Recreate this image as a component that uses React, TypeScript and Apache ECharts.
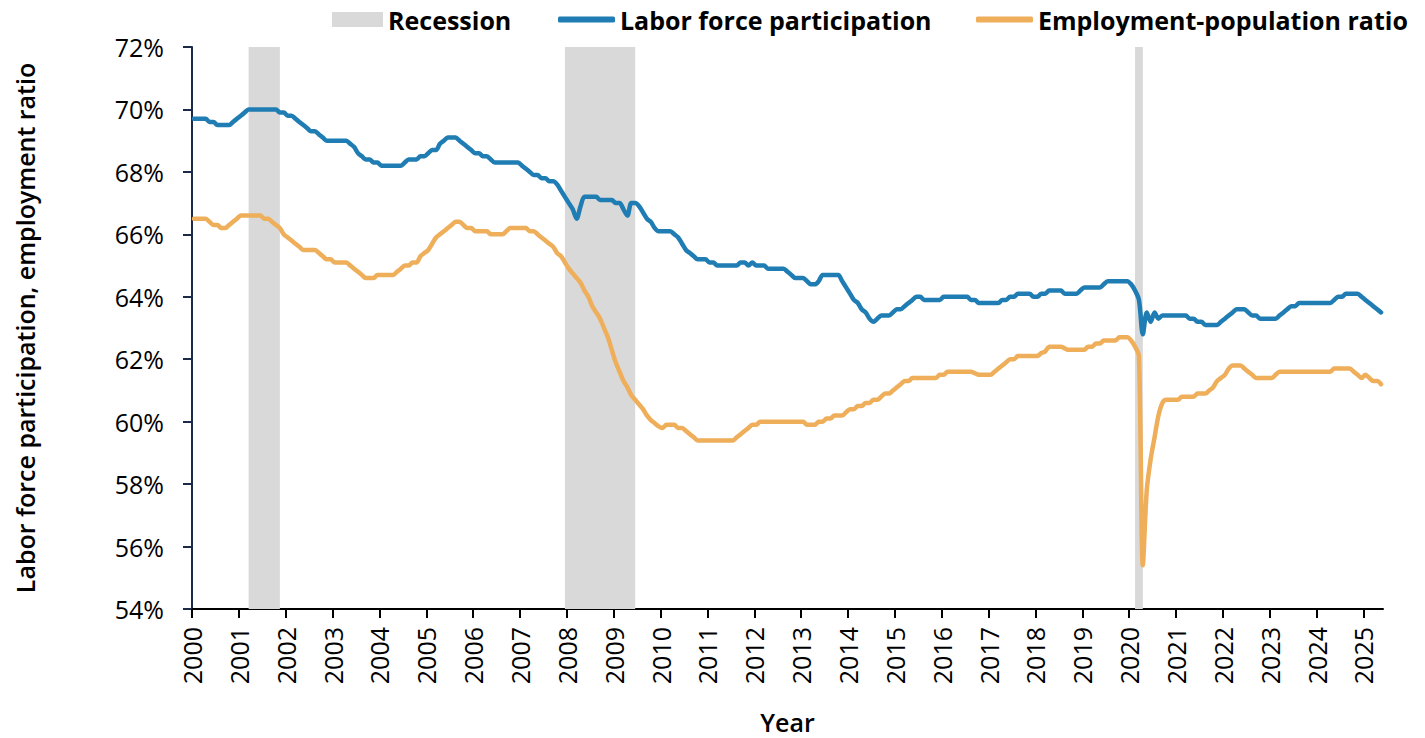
import React, { useEffect, useRef } from "react";
import * as echarts from "echarts";

const startYear = 2000;

// Labor force participation rate (%), monthly, one row per year (Jan..Dec)
const laborForce: number[][] = [
  [69.7, 69.7, 69.7, 69.7, 69.6, 69.6, 69.5, 69.5, 69.5, 69.5, 69.6, 69.7],
  [69.8, 69.9, 70.0, 70.0, 70.0, 70.0, 70.0, 70.0, 70.0, 70.0, 69.9, 69.9],
  [69.8, 69.8, 69.7, 69.6, 69.5, 69.4, 69.3, 69.3, 69.2, 69.1, 69.0, 69.0],
  [69.0, 69.0, 69.0, 69.0, 68.9, 68.8, 68.6, 68.5, 68.4, 68.4, 68.3, 68.3],
  [68.2, 68.2, 68.2, 68.2, 68.2, 68.2, 68.3, 68.4, 68.4, 68.4, 68.5, 68.5],
  [68.6, 68.7, 68.7, 68.9, 69.0, 69.1, 69.1, 69.1, 69.0, 68.9, 68.8, 68.7],
  [68.6, 68.6, 68.5, 68.5, 68.4, 68.3, 68.3, 68.3, 68.3, 68.3, 68.3, 68.3],
  [68.2, 68.1, 68.0, 67.9, 67.9, 67.8, 67.8, 67.7, 67.7, 67.6, 67.4, 67.2],
  [67.0, 66.8, 66.5, 66.9, 67.2, 67.2, 67.2, 67.2, 67.1, 67.1, 67.1, 67.1],
  [67.0, 67.0, 66.8, 66.6, 67.0, 67.0, 66.9, 66.7, 66.5, 66.4, 66.2, 66.1],
  [66.1, 66.1, 66.1, 66.0, 65.9, 65.7, 65.5, 65.4, 65.3, 65.2, 65.2, 65.2],
  [65.1, 65.1, 65.0, 65.0, 65.0, 65.0, 65.0, 65.0, 65.1, 65.1, 65.0, 65.1],
  [65.0, 65.0, 65.0, 64.9, 64.9, 64.9, 64.9, 64.9, 64.8, 64.7, 64.6, 64.6],
  [64.6, 64.5, 64.4, 64.4, 64.5, 64.7, 64.7, 64.7, 64.7, 64.7, 64.5, 64.3],
  [64.1, 63.9, 63.8, 63.6, 63.5, 63.3, 63.2, 63.3, 63.4, 63.4, 63.4, 63.5],
  [63.6, 63.6, 63.7, 63.8, 63.9, 64.0, 64.0, 63.9, 63.9, 63.9, 63.9, 63.9],
  [64.0, 64.0, 64.0, 64.0, 64.0, 64.0, 64.0, 63.9, 63.9, 63.8, 63.8, 63.8],
  [63.8, 63.8, 63.8, 63.9, 63.9, 64.0, 64.0, 64.1, 64.1, 64.1, 64.1, 64.0],
  [64.0, 64.1, 64.1, 64.2, 64.2, 64.2, 64.2, 64.1, 64.1, 64.1, 64.1, 64.2],
  [64.3, 64.3, 64.3, 64.3, 64.3, 64.4, 64.5, 64.5, 64.5, 64.5, 64.5, 64.5],
  [64.4, 64.2, 63.9, 62.8, 63.5, 63.2, 63.5, 63.3, 63.4, 63.4, 63.4, 63.4],
  [63.4, 63.4, 63.4, 63.3, 63.3, 63.2, 63.2, 63.1, 63.1, 63.1, 63.1, 63.2],
  [63.3, 63.4, 63.5, 63.6, 63.6, 63.6, 63.5, 63.4, 63.4, 63.3, 63.3, 63.3],
  [63.3, 63.3, 63.4, 63.5, 63.6, 63.7, 63.7, 63.8, 63.8, 63.8, 63.8, 63.8],
  [63.8, 63.8, 63.8, 63.8, 63.9, 64.0, 64.0, 64.1, 64.1, 64.1, 64.1, 64.0],
  [63.9, 63.8, 63.7, 63.6, 63.5],
];

// Employment-population ratio (%), monthly, one row per year (Jan..Dec)
const employmentRatio: number[][] = [
  [66.5, 66.5, 66.5, 66.5, 66.4, 66.3, 66.3, 66.2, 66.2, 66.3, 66.4, 66.5],
  [66.6, 66.6, 66.6, 66.6, 66.6, 66.6, 66.5, 66.5, 66.4, 66.3, 66.2, 66.0],
  [65.9, 65.8, 65.7, 65.6, 65.5, 65.5, 65.5, 65.5, 65.4, 65.3, 65.2, 65.2],
  [65.1, 65.1, 65.1, 65.1, 65.0, 64.9, 64.8, 64.7, 64.6, 64.6, 64.6, 64.7],
  [64.7, 64.7, 64.7, 64.7, 64.8, 64.9, 65.0, 65.0, 65.1, 65.1, 65.3, 65.4],
  [65.5, 65.7, 65.9, 66.0, 66.1, 66.2, 66.3, 66.4, 66.4, 66.3, 66.2, 66.2],
  [66.1, 66.1, 66.1, 66.1, 66.0, 66.0, 66.0, 66.0, 66.1, 66.2, 66.2, 66.2],
  [66.2, 66.2, 66.1, 66.1, 66.0, 65.9, 65.8, 65.7, 65.6, 65.4, 65.3, 65.1],
  [64.9, 64.75, 64.6, 64.45, 64.2, 64.0, 63.7, 63.5, 63.3, 63.0, 62.7, 62.3],
  [61.9, 61.6, 61.3, 61.1, 60.85, 60.7, 60.55, 60.4, 60.2, 60.05, 59.95, 59.85],
  [59.8, 59.9, 59.9, 59.9, 59.8, 59.8, 59.7, 59.6, 59.5, 59.4, 59.4, 59.4],
  [59.4, 59.4, 59.4, 59.4, 59.4, 59.4, 59.4, 59.5, 59.6, 59.7, 59.8, 59.9],
  [59.9, 60.0, 60.0, 60.0, 60.0, 60.0, 60.0, 60.0, 60.0, 60.0, 60.0, 60.0],
  [60.0, 59.9, 59.9, 59.9, 60.0, 60.0, 60.1, 60.1, 60.2, 60.2, 60.2, 60.3],
  [60.4, 60.4, 60.5, 60.5, 60.6, 60.6, 60.7, 60.7, 60.8, 60.9, 60.9, 61.0],
  [61.1, 61.2, 61.3, 61.3, 61.4, 61.4, 61.4, 61.4, 61.4, 61.4, 61.4, 61.5],
  [61.5, 61.6, 61.6, 61.6, 61.6, 61.6, 61.6, 61.6, 61.55, 61.5, 61.5, 61.5],
  [61.5, 61.6, 61.7, 61.8, 61.9, 62.0, 62.0, 62.1, 62.1, 62.1, 62.1, 62.1],
  [62.1, 62.2, 62.25, 62.4, 62.4, 62.4, 62.4, 62.35, 62.3, 62.3, 62.3, 62.3],
  [62.3, 62.4, 62.4, 62.5, 62.5, 62.6, 62.6, 62.6, 62.6, 62.7, 62.7, 62.7],
  [62.6, 62.4, 62.1, 55.4, 57.8, 58.8, 59.5, 60.2, 60.6, 60.7, 60.7, 60.7],
  [60.7, 60.8, 60.8, 60.8, 60.8, 60.9, 60.9, 60.9, 61.0, 61.1, 61.3, 61.4],
  [61.5, 61.7, 61.8, 61.8, 61.8, 61.7, 61.6, 61.5, 61.4, 61.4, 61.4, 61.4],
  [61.4, 61.5, 61.6, 61.6, 61.6, 61.6, 61.6, 61.6, 61.6, 61.6, 61.6, 61.6],
  [61.6, 61.6, 61.6, 61.6, 61.7, 61.7, 61.7, 61.7, 61.7, 61.6, 61.5, 61.4],
  [61.5, 61.4, 61.3, 61.3, 61.2],
];

// NBER recessions (peak month, trough month)
const recessionPeaks = ["2001-03", "2007-12", "2020-02"];
const recessionTroughs = ["2001-11", "2009-06", "2020-04"];

const yearTicks = [
  2000, 2001, 2002, 2003, 2004, 2005, 2006, 2007, 2008, 2009, 2010, 2011, 2012,
  2013, 2014, 2015, 2016, 2017, 2018, 2019, 2020, 2021, 2022, 2023, 2024, 2025,
];
const percentTicks = [54, 56, 58, 60, 62, 64, 66, 68, 70, 72];

const seriesNames = {
  recession: "Recession",
  lfp: "Labor force participation",
  epop: "Employment-population ratio",
};

const FONT = "'Open Sans', 'Noto Sans', sans-serif";

function monthIndex(ym: string): number {
  const [y, m] = ym.split("-").map(Number);
  return (y - startYear) * 12 + (m - 1);
}

function toPoints(rows: number[][]): [number, number][] {
  const out: [number, number][] = [];
  rows.forEach((row, yi) => {
    row.forEach((v, mi) => {
      out.push([yi * 12 + mi + 0.5, v]);
    });
  });
  return out;
}

export default function App() {
  const ref = useRef<HTMLDivElement>(null);

  useEffect(() => {
    if (!ref.current) return;
    const chart = echarts.init(ref.current, undefined, { renderer: "svg" });

    const lfpPoints = toPoints(laborForce);
    const epopPoints = toPoints(employmentRatio);
    const totalMonths = lfpPoints.length;
    const yearTickValues = yearTicks.map((y) => (y - startYear) * 12);

    const legendText = {
      fontSize: 25,
      fontWeight: "bold" as const,
      color: "#000",
      fontFamily: FONT,
    };

    const option: any = {
      animation: false,
      textStyle: { fontFamily: FONT },
      grid: {
        left: 192,
        right: 42,
        top: 47,
        bottom: 129,
        containLabel: false,
        outerBoundsMode: "none",
      },
      legend: [
        {
          top: 7,
          left: 332,
          padding: 0,
          itemWidth: 51,
          itemHeight: 15,
          textStyle: legendText,
          data: [{ name: seriesNames.recession, icon: "rect", itemStyle: { color: "#D9D9D9" } }],
        },
        {
          top: 7,
          left: 558,
          padding: 0,
          itemWidth: 57,
          itemHeight: 6,
          textStyle: legendText,
          data: [{ name: seriesNames.lfp, icon: "roundRect", itemStyle: { color: "#1F7DB4" } }],
        },
        {
          top: 7,
          left: 976,
          padding: 0,
          itemWidth: 57,
          itemHeight: 6,
          textStyle: legendText,
          data: [{ name: seriesNames.epop, icon: "roundRect", itemStyle: { color: "#EEAE5A" } }],
        },
      ],
      xAxis: {
        type: "value",
        min: 0,
        max: totalMonths,
        interval: 12,
        name: "Year",
        nameLocation: "middle",
        nameGap: 100,
        nameTextStyle: { fontSize: 25, fontWeight: 600, color: "#000", fontFamily: FONT },
        axisLine: { show: true, lineStyle: { color: "#000", width: 2 } },
        axisTick: {
          show: true,
          length: 9,
          customValues: yearTickValues,
          lineStyle: { color: "#000", width: 2 },
        },
        axisLabel: {
          customValues: yearTickValues,
          rotate: 90,
          margin: 18,
          fontSize: 25,
          color: "#000",
          fontFamily: FONT,
          formatter: (v: number) => String(startYear + Math.round(v / 12)),
        },
        splitLine: { show: false },
      },
      yAxis: {
        type: "value",
        min: percentTicks[0],
        max: percentTicks[percentTicks.length - 1],
        interval: 2,
        name: "Labor force participation, employment ratio",
        nameLocation: "middle",
        nameGap: 155,
        nameTextStyle: { fontSize: 25, fontWeight: 600, color: "#000", fontFamily: FONT },
        axisLine: { show: true, lineStyle: { color: "#1C2A4A", width: 2 } },
        axisTick: { show: true, length: 9, lineStyle: { color: "#1C2A4A", width: 2 } },
        axisLabel: {
          margin: 28,
          fontSize: 25,
          color: "#000",
          fontFamily: FONT,
          formatter: (v: number) => `${v}%`,
        },
        splitLine: { show: false },
      },
      series: [
        {
          name: seriesNames.recession,
          type: "line",
          data: [],
          color: "#D9D9D9",
          z: 1,
          markArea: {
            silent: true,
            itemStyle: { color: "#D9D9D9", opacity: 1 },
            data: recessionPeaks.map((p, i) => [
              { xAxis: monthIndex(p) + 0.5 },
              { xAxis: monthIndex(recessionTroughs[i]) + 0.5 },
            ]),
          },
        },
        {
          name: seriesNames.lfp,
          type: "line",
          data: lfpPoints,
          color: "#1F7DB4",
          showSymbol: false,
          smooth: 0.3,
          z: 3,
          lineStyle: { width: 4.5, color: "#1F7DB4", cap: "round", join: "round" },
        },
        {
          name: seriesNames.epop,
          type: "line",
          data: epopPoints,
          color: "#EEAE5A",
          showSymbol: false,
          smooth: 0.3,
          z: 3,
          lineStyle: { width: 4.5, color: "#EEAE5A", cap: "round", join: "round" },
        },
      ],
    };

    chart.setOption(option);
    return () => chart.dispose();
  }, []);

  return (
    <div
      ref={ref}
      style={{ position: "absolute", left: 0, top: 0, width: 1425, height: 738 }}
    />
  );
}
